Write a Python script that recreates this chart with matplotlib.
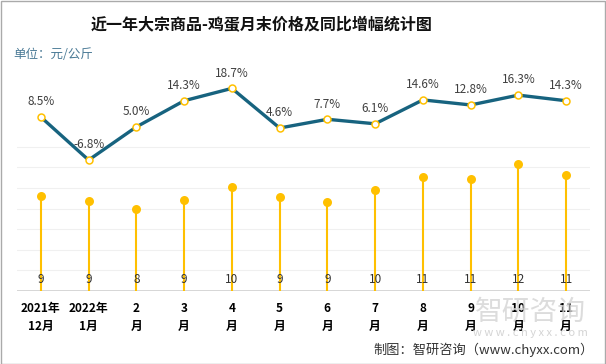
import matplotlib.pyplot as plt
from matplotlib.patches import Rectangle

plt.rcParams['font.family'] = ['Noto Sans CJK SC', 'DejaVu Sans']

months = ["2021年\n12月", "2022年\n1月", "2\n月", "3\n月", "4\n月", "5\n月",
          "6\n月", "7\n月", "8\n月", "9\n月", "10\n月", "11\n月"]
price = [9.2, 8.7, 7.95, 8.8, 10.1, 9.1, 8.6, 9.85, 11.1, 10.85, 12.3, 11.3]
price_label = ["9", "9", "8", "9", "10", "9", "9", "10", "11", "11", "12", "11"]
growth = [8.5, -6.8, 5.0, 14.3, 18.7, 4.6, 7.7, 6.1, 14.6, 12.8, 16.3, 14.3]

W, H = 606, 364
fig = plt.figure(figsize=(W / 100, H / 100), dpi=100)

# plot area in pixels: left 17, right 590, bottom 291, top 60
ax = fig.add_axes([17 / W, (H - 291) / H, 573 / W, 231 / H])
x = list(range(len(months)))
ax.set_xlim(-0.5, len(months) - 0.5)
ax.set_ylim(0, 231 / 10.3)
for g in range(2, 15, 2):
    ax.axhline(g, color="#f0f0f0", lw=0.8, zorder=0)
ax.axhline(0, color="#d0d0d0", lw=1.2, zorder=1)

gold = "#FFC000"
ax.vlines(x, 0, price, color=gold, lw=1.5, zorder=2)
ax.scatter(x, price, s=42, color=gold, zorder=3, linewidths=0)
for i, t in enumerate(price_label):
    ax.text(i, 1.15, t, ha="center", va="center", fontsize=8.5,
            color="#333333", zorder=4)

ax.set_xticks(x)
ax.set_xticklabels(months, fontsize=8.5, fontweight="bold", linespacing=1.45)
ax.tick_params(axis="x", length=0, pad=8)
ax.set_yticks([])
for s in ax.spines.values():
    s.set_visible(False)

ax2 = ax.twinx()
ax2.set_ylim(-53.4, 28.8)
ax2.plot(x, growth, color="#17637f", lw=2.4, zorder=5,
         marker="o", markersize=5, markerfacecolor="white",
         markeredgecolor=gold, markeredgewidth=1.1)
for i, v in enumerate(growth):
    ax2.annotate(f"{v:.1f}%", (i, v), xytext=(0, 11), textcoords="offset points",
                 ha="center", va="center", fontsize=8.5, color="#404040")
ax2.set_yticks([])
for s in ax2.spines.values():
    s.set_visible(False)

fig.text(262 / W, 1 - 25 / H, "近一年大宗商品-鸡蛋月末价格及同比增幅统计图",
         ha="center", va="center", fontsize=11.5, fontweight="bold", color="#111111")
fig.text(13 / W, 1 - 55 / H, "单位：元/公斤", ha="left", va="center",
         fontsize=9, color="#4a7a96")

# watermark
fig.text(530 / W, 1 - 312 / H, "智研咨询", ha="center", va="center",
         fontsize=20, color="#d4d4d4", alpha=0.8, zorder=0)
fig.text(530 / W, 1 - 333 / H, "w w w . c h y x x . c o m", ha="center",
         va="center", fontsize=8, color="#d4d4d4", zorder=0)

fig.text(594 / W, 1 - 350 / H, "制图：智研咨询（www.chyxx.com）", ha="right",
         va="center", fontsize=9.5, color="#333333")

fig.patches.append(Rectangle((0.5 / W, 0.5 / H), 1 - 1.5 / W, 1 - 1.5 / H,
                             transform=fig.transFigure, fill=False,
                             edgecolor="#aaaaaa", lw=1))

fig.savefig("out.png", dpi=100)
